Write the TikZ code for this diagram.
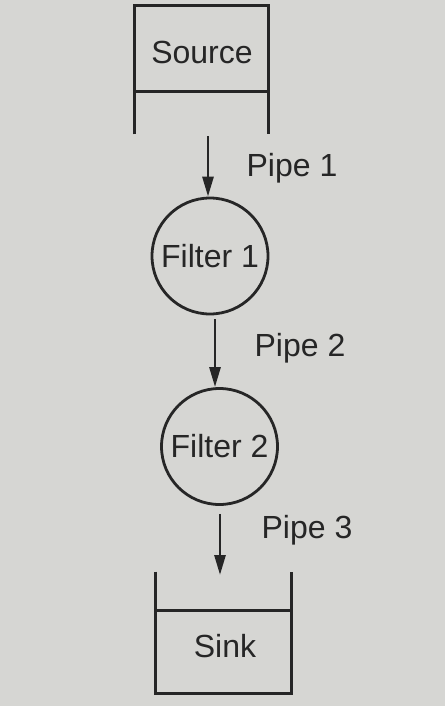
\documentclass[tikz,border=0pt]{standalone}
\usepackage{fontspec}
\setmainfont{Liberation Sans}
\usetikzlibrary{arrows.meta}
\definecolor{paper}{RGB}{214,214,211}
\definecolor{ink}{RGB}{38,38,38}
\begin{document}
\begin{tikzpicture}[x=1pt,y=-1pt,
  line width=2.8pt,
  txt/.style={font=\fontsize{32}{32}\selectfont, text=ink},
  lbl/.style={txt, inner sep=0pt},
  boxnode/.style={txt, inner sep=0pt},
  filt/.style={txt, circle, draw=ink, inner sep=0pt, minimum size=116pt},
  arr/.style={draw=ink, -{Triangle[length=20pt,width=11pt]}}]
\fill[paper] (0,0) rectangle (445,706);
\useasboundingbox (0,0) rectangle (445,706);
% Source
\node[boxnode, minimum width=131pt, minimum height=83pt] (src) at (201.5,48.5) {};
\node[txt, inner sep=0pt] (srct) at (202,52) {Source};
\draw[ink, line join=miter] ([yshift=-43pt]src.south west) -- (src.north west) -- (src.north east) -- ([yshift=-43pt]src.south east);
\draw[ink] (src.south west) -- (src.south east);
% Filters
\node[filt] (f1) at (210,256) {Filter 1};
\node[filt] (f2) at (219.5,446.5) {Filter 2};
% Sink
\node[boxnode, minimum width=133pt, minimum height=80pt] (snk) at (223.5,652) {};
\node[txt, inner sep=0pt] (snkt) at (225,646) {Sink};
\draw[ink, line join=miter] ([yshift=39pt]snk.north west) -- (snk.south west) -- (snk.south east) -- ([yshift=39pt]snk.north east);
\draw[ink] (snk.north west) -- (snk.north east);
% Pipes
\coordinate (p1s) at (208,136);
\coordinate (p3e) at (220,575);
\draw[arr] (p1s) -- (p1s |- f1.north);
\draw[arr, shorten <=4pt] ([xshift=5pt]f1.south) -- ([xshift=-4.5pt]f2.north);
\draw[arr, shorten <=8pt] ([xshift=0.5pt]f2.south) -- (p3e);
\node[lbl] (l1) at (292,168) {Pipe 1};
\node[lbl] (l2) at (300,348) {Pipe 2};
\node[lbl] (l3) at (307,530) {Pipe 3};
\end{tikzpicture}
\end{document}
